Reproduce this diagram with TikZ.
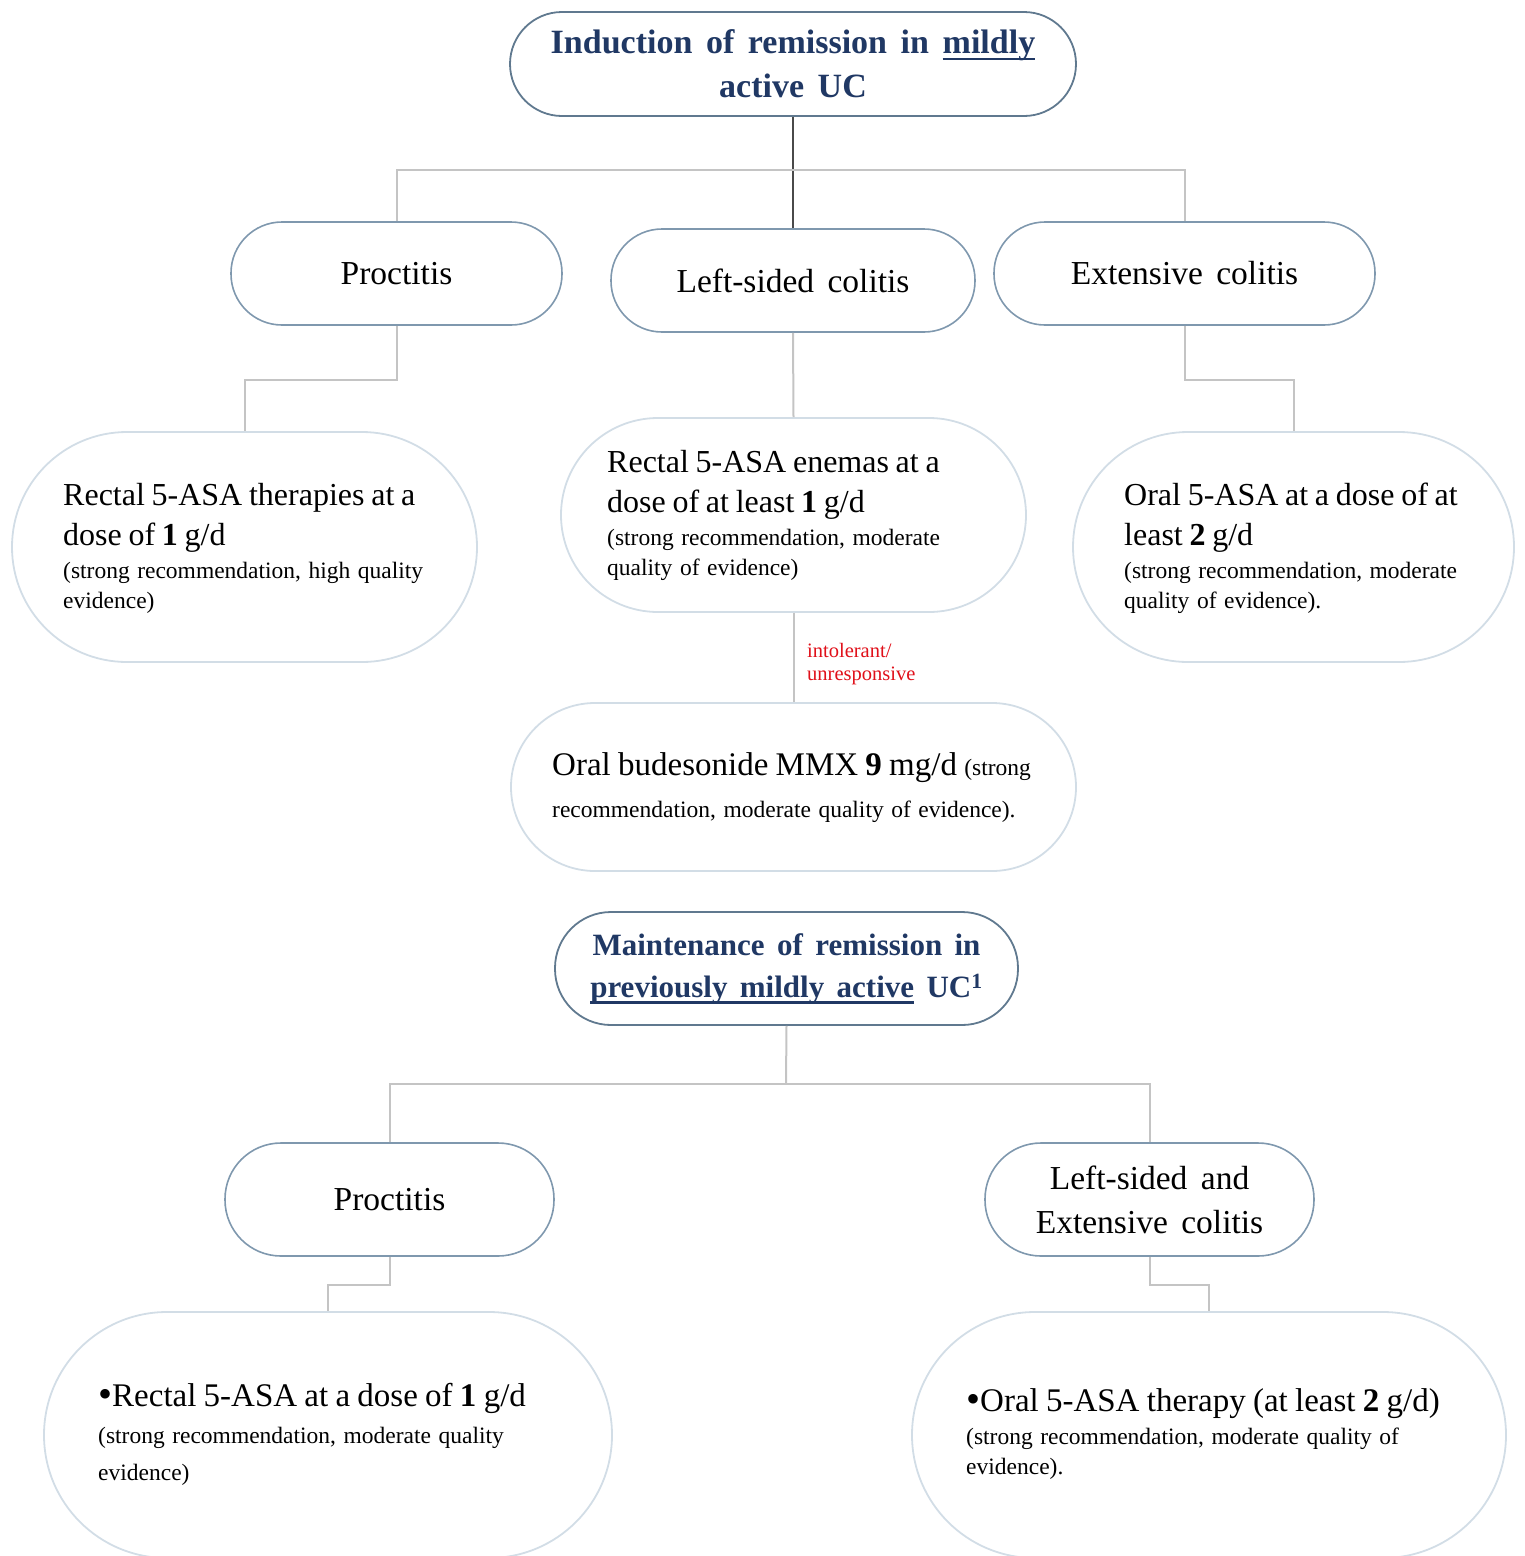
\documentclass[tikz,border=0pt]{standalone}
\usepackage{fontspec}
\setmainfont{Liberation Serif}[WordSpace=1.6]
\usetikzlibrary{positioning}

\definecolor{titleblue}{HTML}{203864}
\definecolor{titleedge}{HTML}{60798F}
\definecolor{midedge}{HTML}{7F98AE}
\definecolor{lowedge}{HTML}{D2DDE6}
\definecolor{linkgrey}{HTML}{C4C4C4}
\definecolor{linkdark}{HTML}{4A4A4A}
\definecolor{flagred}{HTML}{E0101A}

% paragraph text sizes, with explicit word spacing
\newcommand{\bigtxt}{\fontsize{32}{40}\selectfont\spaceskip=.21em plus .1em\relax}
\newcommand{\lowtxt}{\fontsize{33}{40}\selectfont\spaceskip=.22em plus .1em\relax}
\newcommand{\smalltxt}{\fontsize{23.5}{30}\selectfont\spaceskip=.32em plus .1em\relax}
% heavy underline for the headings
\newcommand{\heavyul}[1]{\setbox0\hbox{#1}\rlap{\raisebox{-6.5pt}{\rule{\wd0}{2.6pt}}}\box0\relax}
% larger list bullet
\newcommand{\dotmark}{{\fontsize{40}{40}\selectfont\raisebox{-1pt}{\textbullet}}}

\tikzset{
  titlebox/.style={draw=titleedge, line width=1.8pt, rounded corners=52pt,
    align=center, text=titleblue, font=\fontsize{34}{44}\selectfont\bfseries, inner sep=0pt},
  areabox/.style={draw=midedge, line width=1.6pt, rounded corners=51pt,
    align=center, font=\fontsize{33.5}{44}\selectfont, inner sep=0pt},
  therapybox/.style={draw=lowedge, line width=1.8pt, inner sep=0pt},
  therapytext/.style={anchor=north west, inner sep=0pt, align=left, text width=#1},
  link/.style={draw=linkgrey, line width=2pt},
  darklink/.style={draw=linkdark, line width=2pt},
}

\begin{document}
\begin{tikzpicture}[x=1pt, y=-1pt]
\useasboundingbox (0,0) rectangle (1524,1556);

% ---------- induction of remission ----------
\node[titlebox, minimum width=566pt, minimum height=104pt] (ind) at (793,64)
  {Induction of remission in \heavyul{mildly}\\active UC};

\node[areabox, minimum width=331pt, minimum height=103pt] (proc) at (396.5,273.5) {Proctitis};
\node[areabox, minimum width=364pt, minimum height=103pt] (left) at (793,280.5) {Left-sided colitis};
\node[areabox, minimum width=381pt, minimum height=103pt] (ext) at (1184.5,273.5) {Extensive colitis};

\node[therapybox, rounded corners=115pt, minimum width=465pt, minimum height=230pt] (procT) at (244.5,547) {};
\node[therapybox, rounded corners=97pt, minimum width=465pt, minimum height=194pt] (leftT) at (793.5,515) {};
\node[therapybox, rounded corners=115pt, minimum width=441pt, minimum height=230pt] (extT) at (1293.5,547) {};
\node[therapybox, rounded corners=84pt, minimum width=565pt, minimum height=168pt] (bud) at (793.5,787) {};

\node[therapytext=440pt] (procTt) at (63,483)
  {{\bigtxt Rectal 5-ASA therapies at a\\dose of \textbf{1} g/d\par}
   {\smalltxt\vspace{3pt}(strong recommendation, high quality\\evidence)\par}};
\node[therapytext=440pt] (leftTt) at (607,450)
  {{\bigtxt Rectal 5-ASA enemas at a\\dose of at least \textbf{1} g/d\par}
   {\smalltxt\vspace{3pt}(strong recommendation, moderate\\quality of evidence)\par}};
\node[therapytext=440pt] (extTt) at (1124,483)
  {{\bigtxt Oral 5-ASA at a dose of at\\least \textbf{2} g/d\par}
   {\smalltxt\vspace{3pt}(strong recommendation, moderate\\quality of evidence).\par}};
\node[therapytext=540pt] (budt) at (552,752)
  {{\fontsize{33}{42}\selectfont\spaceskip=.22em plus .1em\relax
    Oral budesonide MMX \textbf{9} mg/d {\smalltxt (strong}\\
   {\smalltxt recommendation, moderate quality of evidence).}\par}};

\node[anchor=north west, inner sep=0pt, align=left, text=flagred,
      font=\fontsize{20.5}{23}\selectfont] (flag) at (807,643) {intolerant/\\unresponsive};

% induction connectors
\draw[darklink] (ind.south) -- (left.north);
\coordinate (hbar) at (793,169.5);
\draw[link] (proc.north) |- (hbar) -| (ext.north);
\draw[link] (proc.south) -- ++(0,54) -| (procT.north -| 245,0);
\draw[link] (ext.south) -- ++(0,54) -| (extT.north -| 1294,0);
\draw[link] (left.south) -- (leftT.north);
\draw[link] (leftT.south) -- (bud.north);

% ---------- maintenance of remission ----------
\node[titlebox, font=\fontsize{31}{42}\selectfont\bfseries, minimum width=463pt, minimum height=113pt,
      rounded corners=56pt] (mnt) at (786.5,968.5)
  {Maintenance of remission in\\\heavyul{previously mildly active} UC\textsuperscript{1}};

\node[areabox, minimum width=329pt, minimum height=113pt, rounded corners=56pt] (proc2) at (389.5,1199.5) {Proctitis};
\node[areabox, minimum width=329pt, minimum height=113pt, rounded corners=56pt] (lext) at (1149.5,1199.5)
  {Left-sided and\\Extensive colitis};

\node[therapybox, rounded corners=123pt, minimum width=568pt, minimum height=246pt] (proc2T) at (328,1435) {};
\node[therapybox, rounded corners=123pt, minimum width=594pt, minimum height=246pt] (lextT) at (1209,1435) {};

\node[therapytext=520pt] (proc2Tt) at (98,1383)
  {{\lowtxt\dotmark Rectal 5-ASA at a dose of \textbf{1} g/d\par}
   {\fontsize{23.5}{37}\selectfont\spaceskip=.32em plus .1em\relax
    (strong recommendation, moderate quality\\evidence)\par}};
\node[therapytext=540pt] (lextTt) at (966,1388)
  {{\lowtxt\dotmark Oral 5-ASA therapy (at least \textbf{2} g/d)\par}
   {\smalltxt\vspace{3pt}(strong recommendation, moderate quality of\\evidence).\par}};

% maintenance connectors
\coordinate (hbar2) at (786,1084);
\draw[link] (mnt.south) -- (hbar2);
\draw[link] (proc2.north) |- (hbar2) -| (lext.north);
\draw[link] (proc2.south) -- ++(0,28) -| (proc2T.north);
\draw[link] (lext.south) -- ++(0,28) -| (lextT.north);
\end{tikzpicture}
\end{document}
